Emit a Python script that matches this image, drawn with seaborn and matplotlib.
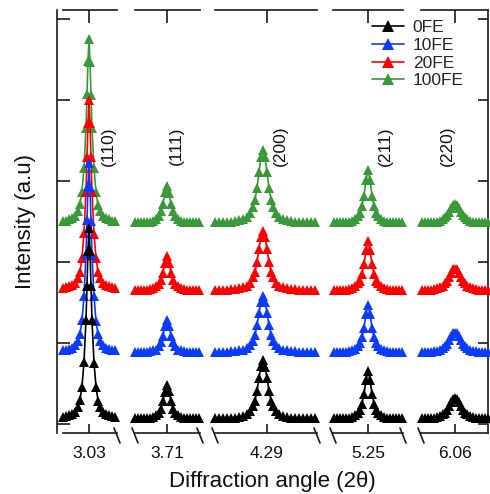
import matplotlib
matplotlib.use("Agg")
import numpy as np
import pandas as pd
import matplotlib.pyplot as plt
import seaborn as sns
from matplotlib.lines import Line2D

sns.set_theme(style="white")
plt.rcParams["font.family"] = ["Liberation Sans", "DejaVu Sans"]

# ---------------- data ----------------
SAMPLES = ["0FE", "10FE", "20FE", "100FE"]
COLORS = ["#000000", "#0A3BFF", "#FF0000", "#3A9A3A"]
OFFSETS = [6, 88, 165, 248]          # vertical stacking offsets (a.u.)

PEAK_LABELS = ["(110)", "(111)", "(200)", "(211)", "(220)"]
PEAK_LABEL_X = [3.125, 3.755, 4.355, 5.335, 6.02]
TICK_VALUES = [3.03, 3.71, 4.29, 5.25, 6.06]
TICK_LABELS = ["3.03", "3.71", "4.29", "5.25", "6.06"]
XLIMS = [(2.90, 3.17), (3.55, 3.875), (4.03, 4.54), (5.075, 5.425), (5.89, 6.225)]
Y_TICKS = [0, 100, 200, 300, 400, 500]

# (110)
TT_110 = [2.90, 2.915, 2.93, 2.945, 2.96, 2.975, 2.985, 2.995, 3.005, 3.015, 3.02, 3.025, 3.03,
          3.035, 3.04, 3.045, 3.055, 3.065, 3.075, 3.085, 3.10, 3.115, 3.13, 3.145, 3.16]
I_110_0FE = [3, 4, 5, 7, 9, 15, 24, 40, 71, 123, 165, 208, 236, 207, 164, 122, 70, 40, 23, 15, 9, 7, 5, 4, 3]
I_110_10FE = [3, 4, 5, 6, 9, 15, 23, 40, 70, 122, 164, 206, 234, 205, 163, 121, 70, 39, 23, 15, 9, 6, 5, 4, 3]
I_110_20FE = [3, 4, 5, 7, 9, 15, 23, 40, 71, 122, 165, 207, 235, 206, 164, 122, 70, 40, 23, 15, 9, 7, 5, 4, 3]
I_110_100FE = [3, 3, 5, 6, 9, 15, 23, 39, 68, 118, 159, 200, 227, 199, 158, 117, 68, 38, 22, 15, 9, 6, 5, 3, 3]

# (111)
TT_111 = [3.55, 3.565, 3.58, 3.595, 3.61, 3.625, 3.64, 3.655, 3.67, 3.68, 3.69, 3.70, 3.71,
          3.72, 3.73, 3.74, 3.75, 3.765, 3.78, 3.795, 3.81, 3.825, 3.84, 3.855, 3.87]
I_111_0FE = [1, 1, 1, 1, 1, 2, 3, 5, 8, 13, 22, 34, 42, 35, 22, 13, 8, 5, 3, 2, 1, 1, 1, 1, 1]
I_111_10FE = [1, 1, 1, 1, 1, 2, 3, 4, 8, 13, 21, 33, 40, 33, 21, 13, 8, 4, 3, 2, 1, 1, 1, 1, 1]
I_111_20FE = [1, 1, 1, 1, 1, 2, 3, 5, 8, 13, 22, 34, 42, 34, 22, 13, 8, 5, 3, 2, 1, 1, 1, 1, 1]
I_111_100FE = [1, 1, 1, 1, 1, 2, 3, 5, 9, 15, 24, 38, 46, 37, 24, 15, 9, 5, 3, 2, 1, 1, 1, 1, 1]

# (200)
TT_200 = [4.03, 4.05, 4.07, 4.09, 4.11, 4.13, 4.15, 4.17, 4.19, 4.205, 4.22, 4.23, 4.24, 4.25, 4.26, 4.27,
          4.28, 4.29, 4.30, 4.31, 4.32, 4.335, 4.35, 4.37, 4.39, 4.41, 4.43, 4.45, 4.47, 4.49, 4.51, 4.53]
I_200_0FE = [1, 1, 1, 1, 2, 2, 3, 4, 6, 10, 16, 23, 35, 51, 66, 73, 65, 51, 35, 23, 16, 10, 6, 4, 3, 2, 2, 1, 1, 1, 1, 1]
I_200_10FE = [1, 1, 1, 1, 2, 2, 3, 4, 6, 9, 15, 22, 34, 49, 63, 70, 63, 49, 34, 22, 15, 9, 6, 4, 3, 2, 2, 1, 1, 1, 1, 1]
I_200_20FE = [1, 1, 1, 1, 2, 2, 3, 4, 6, 9, 16, 23, 35, 51, 66, 73, 66, 51, 35, 23, 16, 9, 6, 4, 3, 2, 2, 1, 1, 1, 1, 1]
I_200_100FE = [1, 1, 1, 2, 2, 3, 4, 5, 8, 12, 20, 29, 43, 63, 81, 90, 81, 63, 43, 29, 20, 12, 8, 5, 4, 3, 2, 2, 1, 1, 1, 1]

# (211)
TT_211 = [5.08, 5.095, 5.11, 5.125, 5.14, 5.155, 5.17, 5.185, 5.20, 5.21, 5.22, 5.23, 5.24, 5.25,
          5.26, 5.27, 5.28, 5.29, 5.30, 5.315, 5.33, 5.345, 5.36, 5.375, 5.39, 5.405, 5.42]
I_211_0FE = [1, 1, 1, 1, 1, 2, 3, 5, 8, 12, 19, 31, 48, 59, 49, 31, 19, 12, 8, 5, 3, 2, 1, 1, 1, 1, 1]
I_211_10FE = [1, 1, 1, 1, 1, 2, 3, 5, 8, 12, 19, 31, 48, 59, 48, 31, 19, 12, 8, 5, 3, 2, 1, 1, 1, 1, 1]
I_211_20FE = [1, 1, 1, 1, 1, 2, 3, 5, 9, 12, 20, 32, 50, 61, 50, 32, 20, 12, 9, 5, 3, 2, 1, 1, 1, 1, 1]
I_211_100FE = [1, 1, 1, 1, 2, 2, 3, 5, 9, 13, 21, 34, 53, 65, 53, 34, 21, 13, 9, 5, 3, 2, 2, 1, 1, 1, 1]

# (220)
TT_220 = [5.895, 5.91, 5.925, 5.94, 5.955, 5.97, 5.985, 6.00, 6.01, 6.02, 6.03, 6.04, 6.05, 6.06,
          6.07, 6.08, 6.09, 6.10, 6.11, 6.12, 6.135, 6.15, 6.165, 6.18, 6.195, 6.21, 6.225]
I_220_0FE = [1, 1, 1, 1, 2, 3, 4, 6, 8, 12, 16, 21, 25, 26, 25, 21, 16, 12, 8, 6, 4, 3, 2, 1, 1, 1, 1]
I_220_10FE = [1, 1, 1, 1, 2, 2, 4, 6, 8, 11, 16, 21, 24, 25, 24, 21, 16, 11, 8, 6, 4, 2, 2, 1, 1, 1, 1]
I_220_20FE = [1, 1, 1, 1, 2, 3, 4, 6, 9, 12, 17, 22, 26, 27, 26, 22, 17, 12, 9, 6, 4, 3, 2, 1, 1, 1, 1]
I_220_100FE = [1, 1, 1, 1, 2, 2, 3, 5, 7, 10, 14, 19, 22, 23, 22, 19, 14, 10, 7, 5, 3, 2, 2, 1, 1, 1, 1]

PANELS = [
    (TT_110, [I_110_0FE, I_110_10FE, I_110_20FE, I_110_100FE]),
    (TT_111, [I_111_0FE, I_111_10FE, I_111_20FE, I_111_100FE]),
    (TT_200, [I_200_0FE, I_200_10FE, I_200_20FE, I_200_100FE]),
    (TT_211, [I_211_0FE, I_211_10FE, I_211_20FE, I_211_100FE]),
    (TT_220, [I_220_0FE, I_220_10FE, I_220_20FE, I_220_100FE]),
]

# ---------------- layout (pixels) ----------------
W, H = 490, 494
FRAME_X = (57, 488)
AX_Y = (10, 433)
PANEL_PX = [(63, 117), (135, 200), (215, 317), (333, 403), (421, 488)]
YLIM = (-11, 511)
SPINE_C = "#1a1a1a"
LW = 1.2
FS = 12.5

fig = plt.figure(figsize=(W / 100, H / 100), dpi=100)


def px_axes(x0, x1, y0, y1):
    return fig.add_axes([x0 / W, 1 - y1 / H, (x1 - x0) / W, (y1 - y0) / H])


# frame axes with left/right spines and y ticks
frame = px_axes(FRAME_X[0], FRAME_X[1], AX_Y[0], AX_Y[1])
frame.set_facecolor("none")
frame.set_ylim(*YLIM)
frame.set_xlim(0, 1)
frame.set_xticks([])
frame.set_yticks(Y_TICKS)
frame.tick_params(axis="y", direction="in", left=True, right=True, labelleft=False,
                  length=9, width=LW, color=SPINE_C)
for t in frame.yaxis.get_major_ticks():
    t.tick2line.set_markersize(7)
for s in ["top", "bottom"]:
    frame.spines[s].set_visible(False)
for s in ["left", "right"]:
    frame.spines[s].set_visible(True)
    frame.spines[s].set_linewidth(LW)
    frame.spines[s].set_color(SPINE_C)
frame.grid(False)

axes = []
for i, ((tt, ints), (x0, x1)) in enumerate(zip(PANELS, PANEL_PX)):
    ax = px_axes(x0, x1, AX_Y[0], AX_Y[1])
    ax.set_facecolor("none")
    # draw 100FE first, 0FE last (on top)
    for j in reversed(range(len(SAMPLES))):
        df = pd.DataFrame({"two_theta": tt,
                           "intensity": np.asarray(ints[j]) + OFFSETS[j]})
        sns.lineplot(data=df, x="two_theta", y="intensity", ax=ax, color=COLORS[j],
                     marker="^", markersize=6.8, markeredgewidth=0, linewidth=LW,
                     sort=False, estimator=None, errorbar=None, legend=False,
                     clip_on=False, zorder=5 + (3 - j))
    ax.set_xlim(*XLIMS[i])
    ax.set_ylim(*YLIM)
    ax.set_xticks([TICK_VALUES[i]])
    ax.set_xticklabels([TICK_LABELS[i]])
    ax.set_yticks([])
    ax.set_xlabel("")
    ax.set_ylabel("")
    ax.grid(False)
    ax.tick_params(axis="x", direction="in", top=True, bottom=True, labeltop=False,
                   labelbottom=True, length=6.5, width=LW, color=SPINE_C,
                   labelsize=FS, pad=9, labelcolor="#111111")
    for t in ax.xaxis.get_major_ticks():
        t.tick2line.set_markersize(9.5)
    for s in ["left", "right"]:
        ax.spines[s].set_visible(False)
    for s in ["top", "bottom"]:
        ax.spines[s].set_visible(True)
        ax.spines[s].set_linewidth(LW)
        ax.spines[s].set_color(SPINE_C)
    ax.text(PEAK_LABEL_X[i], 343, PEAK_LABELS[i], rotation=90, ha="center", va="center",
            fontsize=FS, color="#111111", clip_on=False)
    axes.append(ax)

# break marks on the bottom axis
for i, (x0, x1) in enumerate(PANEL_PX):
    ends = []
    if i > 0:
        ends.append(x0)
    if i < len(PANEL_PX) - 1:
        ends.append(x1)
    for e in ends:
        fig.add_artist(Line2D([(e - 3) / W, (e + 3) / W],
                              [1 - 428 / H, 1 - 443 / H],
                              color=SPINE_C, linewidth=LW, transform=fig.transFigure))

# axis labels
fig.text(25 / W, 1 - 221 / H, "Intensity (a.u)", rotation=90, ha="center", va="center",
         fontsize=16, color="#111111")
fig.text(272 / W, 1 - 481 / H, "Diffraction angle (2\u03b8)", ha="center", va="center",
         fontsize=16, color="#111111")

# legend
handles = [Line2D([], [], color=c, marker="^", markersize=8.5, markeredgewidth=0, linewidth=LW)
           for c in COLORS]
fig.legend(handles, SAMPLES, loc="upper left", bbox_to_anchor=(372 / W, 1 - 20 / H),
           frameon=False, fontsize=FS, handlelength=1.85, handletextpad=0.5,
           labelspacing=0.15, borderpad=0, borderaxespad=0)

fig.savefig("out.png", dpi=100)
